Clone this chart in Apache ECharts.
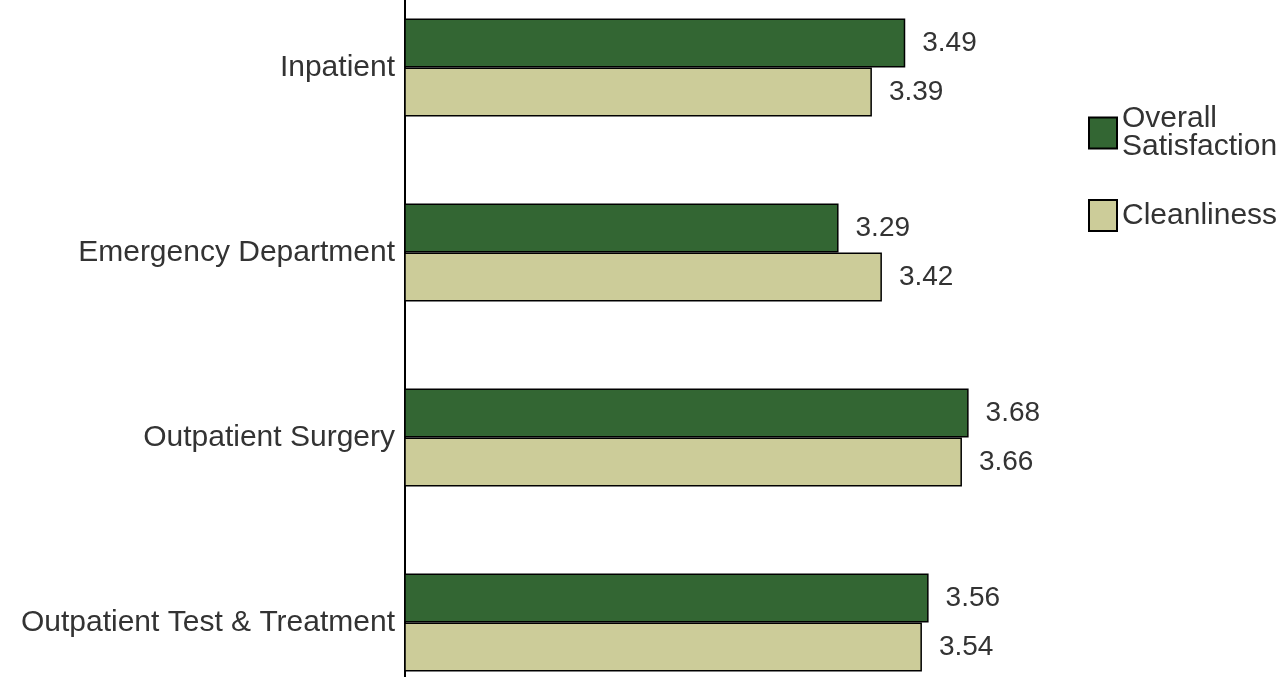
<!DOCTYPE html>
<html>
<head>
<meta charset="utf-8">
<script src="https://cdn.jsdelivr.net/npm/echarts@6/dist/echarts.min.js"></script>
<style>
html,body{margin:0;padding:0;background:#fff;}
#chart{width:1287px;height:677px;}
</style>
</head>
<body>
<div id="chart"></div>
<script>
const categories = ['Inpatient', 'Emergency Department', 'Outpatient Surgery', 'Outpatient Test & Treatment'];
const overallSatisfaction = [3.49, 3.29, 3.68, 3.56];
const cleanliness = [3.39, 3.42, 3.66, 3.54];
const seriesNames = ['Overall\nSatisfaction', 'Cleanliness'];

const FONT = '"Liberation Sans", Arial, sans-serif';
const chart = echarts.init(document.getElementById('chart'));
const labelCfg = {
  show: true,
  position: 'right',
  distance: 17,
  fontSize: 28,
  fontFamily: FONT,
  color: '#333',
  formatter: p => p.value.toFixed(2)
};
chart.setOption({
  animation: false,
  backgroundColor: '#fff',
  grid: { left: 405, width: 667, top: -25, height: 740, containLabel: false, outerBoundsMode: 'none' },
  legend: {
    orient: 'vertical',
    left: 1083,
    top: 99,
    itemWidth: 28,
    itemHeight: 31,
    itemGap: 37,
    icon: 'rect',
    textStyle: { fontSize: 30, fontFamily: FONT, color: '#333', lineHeight: 28 },
    data: seriesNames
  },
  xAxis: {
    type: 'value',
    min: 1.99,
    max: 3.99,
    show: false
  },
  yAxis: {
    type: 'category',
    inverse: true,
    data: categories,
    axisLine: { show: true, lineStyle: { color: '#000', width: 2 } },
    axisTick: { show: false },
    axisLabel: { margin: 10, fontSize: 30, fontFamily: FONT, color: '#333' },
    splitLine: { show: false }
  },
  series: [
    {
      name: seriesNames[0],
      type: 'bar',
      data: overallSatisfaction,
      barWidth: 49,
      barGap: '0%',
      itemStyle: { color: '#336633', borderColor: '#000', borderWidth: 1.5 },
      label: labelCfg
    },
    {
      name: seriesNames[1],
      type: 'bar',
      data: cleanliness,
      barWidth: 49,
      barGap: '0%',
      itemStyle: { color: '#cccc99', borderColor: '#000', borderWidth: 1.5 },
      label: labelCfg
    }
  ]
});
</script>
</body>
</html>
